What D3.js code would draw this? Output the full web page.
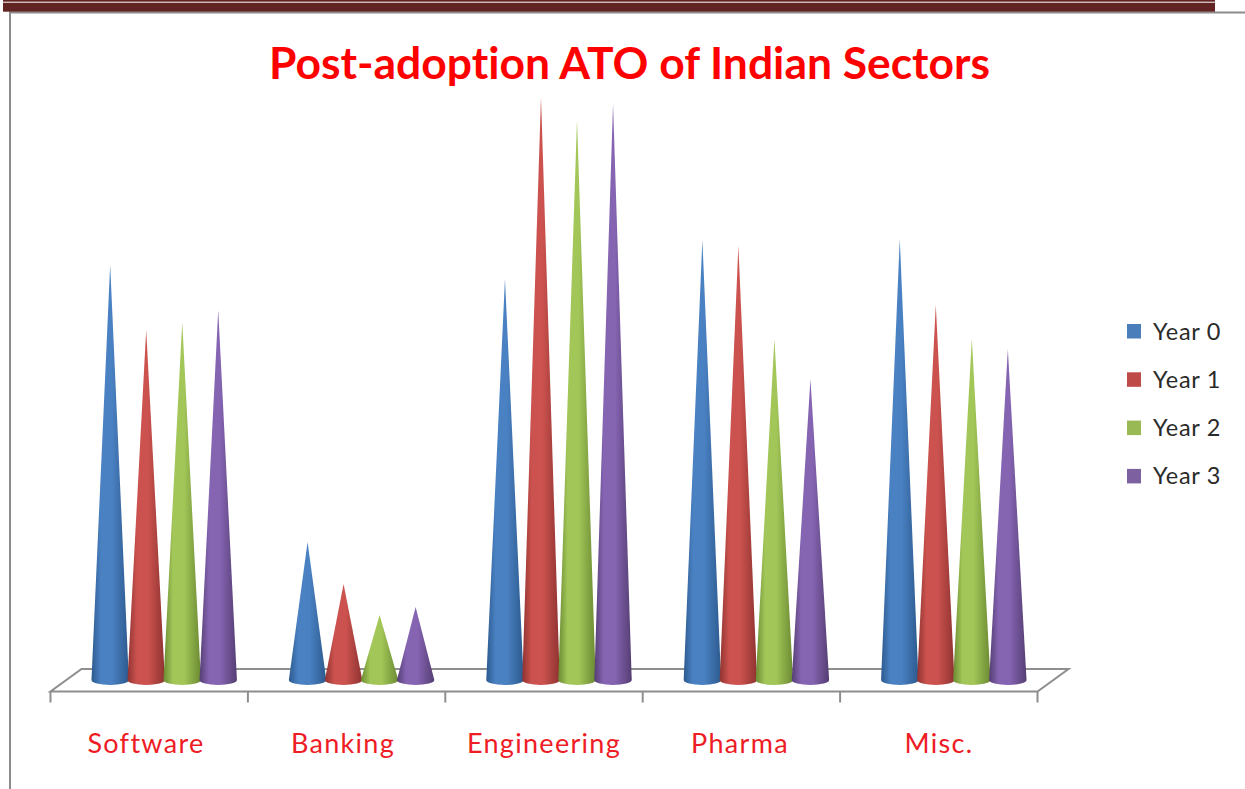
<!DOCTYPE html>
<html>
<head>
<meta charset="utf-8">
<script src="https://cdn.jsdelivr.net/npm/d3@7"></script>
<style>
  html, body { margin: 0; padding: 0; background: #fff; }
  svg { display: block; }
  text { font-family: Lato, "Open Sans", sans-serif; font-variant-ligatures: none; }
</style>
</head>
<body>
<svg id="chart" width="1245" height="789"></svg>
<script>
// Asset turnover per sector, by year after adoption
const sectors = ["Software", "Banking", "Engineering", "Pharma", "Misc."];
const years = ["Year 0", "Year 1", "Year 2", "Year 3"];
const year0 = [4.15, 1.38, 4.01, 4.40, 4.41];
const year1 = [3.50, 0.96, 5.83, 4.34, 3.75];
const year2 = [3.58, 0.65, 5.60, 3.41, 3.41];
const year3 = [3.70, 0.73, 5.76, 3.01, 3.31];
const seriesValues = [year0, year1, year2, year3];
const edgeColors = ["#2c5a8e", "#8f3331", "#6b8a32", "#553e73"];
const midColors = ["#4a81c2", "#cb524e", "#a2c658", "#8564b2"];
const keyColors = ["#4a7ebb", "#be4b48", "#98b954", "#7d60a0"];

const svg = d3.select("#chart");
const defs = svg.append("defs");

// Page furniture around the embedded chart
svg.append("rect").attr("x", 9).attr("y", 11.5).attr("width", 1236).attr("height", 2).attr("fill", "#8c8c8c");
svg.append("rect").attr("x", 9).attr("y", 11.5).attr("width", 2).attr("height", 778).attr("fill", "#8c8c8c");
svg.append("rect").attr("x", 3).attr("y", 0).attr("width", 1212).attr("height", 1.7).attr("fill", "#622423");
svg.append("rect").attr("x", 3).attr("y", 2.7).attr("width", 1212).attr("height", 9).attr("fill", "#622423");

const frontLeft = 50.5, frontRight = 1037.5;
const x = d3.scaleBand().domain(sectors).range([frontLeft, frontRight]);
const inner = d3.scaleBand().domain(years).range([0, x.bandwidth()]).paddingOuter(0.74);
const y = d3.scaleLinear().domain([0, 6]).range([680, 80]);
const depthX = 31, depthY = 22.5, floorFront = 691.5;
const coneShift = depthX / 2 - 0.5;
const baseRx = 18.7, baseRy = 5;

// Floor of the 3D plot
const floor = [[frontLeft, floorFront], [frontRight, floorFront],
  [frontRight + depthX, floorFront - depthY], [frontLeft + depthX, floorFront - depthY]];
svg.append("path")
  .attr("d", d3.line()(floor) + "Z")
  .attr("fill", "#fff").attr("stroke", "#8e8e8e").attr("stroke-width", 2);

// Category ticks under the front edge
svg.append("g").selectAll("line")
  .data(sectors.map(s => x(s)).concat(frontRight))
  .join("line")
  .attr("x1", d => d).attr("x2", d => d)
  .attr("y1", floorFront).attr("y2", floorFront + 11)
  .attr("stroke", "#8e8e8e").attr("stroke-width", 2);

// One horizontal shading ramp per series gives the cones their round look
years.forEach((yr, i) => {
  const g = defs.append("linearGradient").attr("id", "cone" + i);
  [[0, edgeColors[i]], [0.25, midColors[i]], [0.55, midColors[i]], [1, edgeColors[i]]].forEach(([o, c]) =>
    g.append("stop").attr("offset", o).attr("stop-color", c));
});

const conePath = (cx, top, base) =>
  `M${cx},${top}L${cx + baseRx},${base}` +
  `A${baseRx},${baseRy} 0 0 1 ${cx - baseRx},${base}Z`;

const cones = sectors.flatMap((s, si) => years.map((yr, yi) => ({ s, yr, yi, v: seriesValues[yi][si] })));
svg.append("g").selectAll("path")
  .data(cones)
  .join("path")
  .attr("d", d => conePath(x(d.s) + inner(d.yr) + inner.bandwidth() / 2 + coneShift, y(d.v), y(0)))
  .attr("fill", d => `url(#cone${d.yi})`);

// Title
svg.append("text").attr("x", 629.5).attr("y", 79)
  .attr("text-anchor", "middle").attr("font-size", 44.4).attr("font-weight", 700).attr("fill", "#fe0000")
  .text("Post-adoption ATO of Indian Sectors");

// Category labels
const labelCenters = [146, 343, 544, 740, 939];
svg.append("g").selectAll("text")
  .data(sectors)
  .join("text")
  .attr("x", (d, i) => labelCenters[i]).attr("y", 753)
  .attr("text-anchor", "middle").attr("font-size", 27).attr("letter-spacing", 1.3).attr("fill", "#ee1c25")
  .text(d => d);

// Legend
const key = svg.append("g").selectAll("g")
  .data(years)
  .join("g")
  .attr("transform", (d, i) => `translate(1127,${324 + i * 48.3})`);
key.append("rect").attr("width", 14).attr("height", 14.5).attr("fill", (d, i) => keyColors[i]);
key.append("text").attr("x", 26).attr("y", 15.5).attr("font-size", 23.5).attr("letter-spacing", 0.7).attr("fill", "#2a2a2a").text(d => d);
</script>
</body>
</html>
